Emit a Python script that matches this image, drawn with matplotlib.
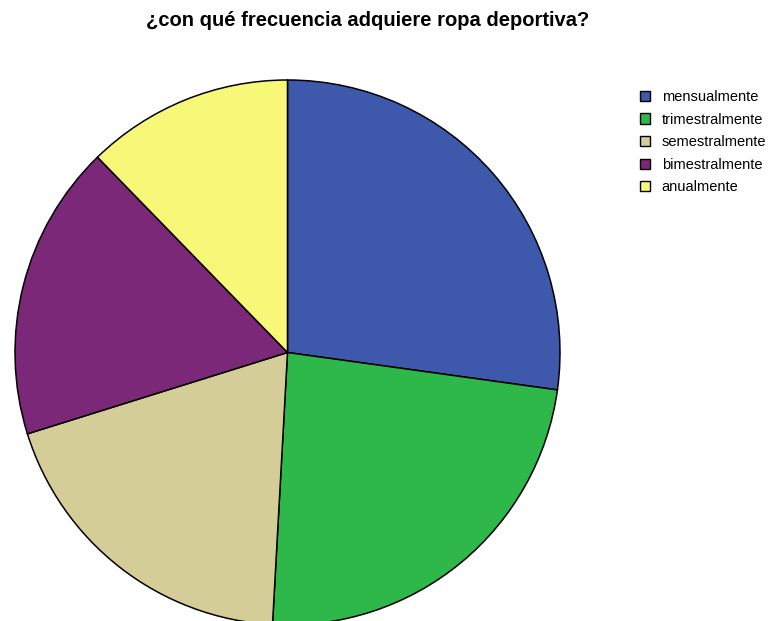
import matplotlib.pyplot as plt

plt.rcParams["font.family"] = ["Liberation Sans", "DejaVu Sans"]

labels = ["mensualmente", "trimestralmente", "semestralmente", "bimestralmente", "anualmente"]
counts = [62, 54, 44, 40, 28]
colors = ["#3E58AC", "#2EB84A", "#D4CD98", "#7B2878", "#F8F878"]

fig = plt.figure(figsize=(7.68, 6.21), dpi=100)
W, H = 768, 621
r = 272.5
cx, cy = 287.5, 352.5
ax = fig.add_axes([(cx - r) / W, (H - cy - r) / H, 2 * r / W, 2 * r / H])

wedges, _ = ax.pie(counts, colors=colors, startangle=90, counterclock=False,
                   wedgeprops=dict(edgecolor="black", linewidth=1.1))
ax.set_xlim(-1, 1)
ax.set_ylim(-1, 1)
ax.set_aspect("equal")
ax.axis("off")

fig.text(367.5 / W, 1 - 21 / H, "¿con qué frecuencia adquiere ropa deportiva?",
         ha="center", va="center", fontsize=14.5, fontweight="bold")

leg = fig.legend(wedges, labels, loc="upper left", bbox_to_anchor=(640 / W, 1 - 90 / H),
                 frameon=False, fontsize=10.5, handlelength=0.7, handleheight=0.7,
                 handletextpad=0.8, labelspacing=0.59, borderaxespad=0, borderpad=0)
for h in leg.legend_handles:
    h.set_linewidth(1.0)

fig.savefig("out.png", dpi=100)
